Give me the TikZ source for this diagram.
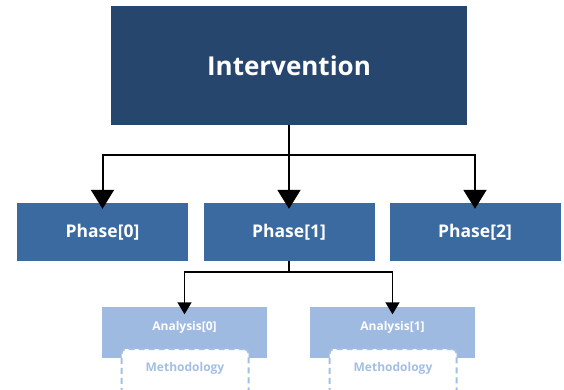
\documentclass[tikz,border=0pt]{standalone}
\usepackage{fontspec}
\setmainfont{Open Sans}
\usetikzlibrary{arrows.meta}
\definecolor{navy}{HTML}{27466E}
\definecolor{phaseblue}{HTML}{3A6A9F}
\definecolor{lightblue}{HTML}{9EBAE0}
\definecolor{methblue}{HTML}{A3BFE3}
\tikzset{
  topbox/.style={fill=navy,draw=none,minimum width=356pt,minimum height=119pt,inner sep=0pt,text=white,font=\bfseries\fontsize{26}{30}\selectfont},
  phasebox/.style={fill=phaseblue,draw=none,minimum width=171pt,minimum height=58pt,inner sep=0pt,text=white,font=\bfseries\fontsize{17.5}{20}\selectfont},
  anabox/.style={fill=lightblue,draw=none,minimum width=165pt,minimum height=51pt,inner sep=0pt},
  methbox/.style={fill=white,draw=methblue,dash pattern=on 6pt off 4pt,line width=2pt,rounded corners=4pt,minimum width=127pt,minimum height=60pt,inner sep=0pt},
  anatext/.style={text=white,font=\bfseries\fontsize{12}{14}\selectfont},
  methtext/.style={text=methblue,font=\bfseries\fontsize{12}{14}\selectfont},
  bigarrow/.style={draw=black,line width=2pt,-{Triangle[width=23pt,length=19pt]}},
  smallarrow/.style={draw=black,line width=1.5pt,-{Triangle[width=14pt,length=12pt]}},
  plainline/.style={draw=black,line width=2pt},
  smallline/.style={draw=black,line width=1.5pt}
}
\begin{document}
\begin{tikzpicture}[x=1pt,y=-1pt]
\useasboundingbox (0,0) rectangle (564,389);
\clip (0,0) rectangle (564,389);
\node[topbox] (int) at (289,65.5) {Intervention};
\node[phasebox] (p0) at (102.5,232) {Phase[0]};
\node[phasebox] (p1) at (289,232) {Phase[1]};
\node[phasebox] (p2) at (475,232) {Phase[2]};
\node[anabox] (a0) at (184.5,332) {};
\node[anabox] (a1) at (392.5,332) {};
\node[methbox,anchor=north] (m0) at (185,348) {};
\node[methbox,anchor=north] (m1) at (393,348) {};
\node[anatext] (a0t) at (184.5,327) {Analysis[0]};
\node[anatext] (a1t) at (392.5,327) {Analysis[1]};
\node[methtext] (m0t) at (185,368) {Methodology};
\node[methtext] (m1t) at (393,368) {Methodology};
\coordinate (j) at (289,155);
\draw[plainline] (int.south) -- (j);
\draw[bigarrow] (j) -| ([yshift=-6pt]p0.north);
\draw[bigarrow] (j) -- ([yshift=-6pt]p1.north);
\draw[bigarrow] (j) -| ([yshift=-6pt]p2.north);
\coordinate (k) at (289,272);
\draw[smallline] (p1.south) -- (k);
\draw[smallarrow] (k) -| ([yshift=-8pt]a0.north);
\draw[smallarrow] (k) -| ([yshift=-8pt]a1.north);
\end{tikzpicture}
\end{document}
